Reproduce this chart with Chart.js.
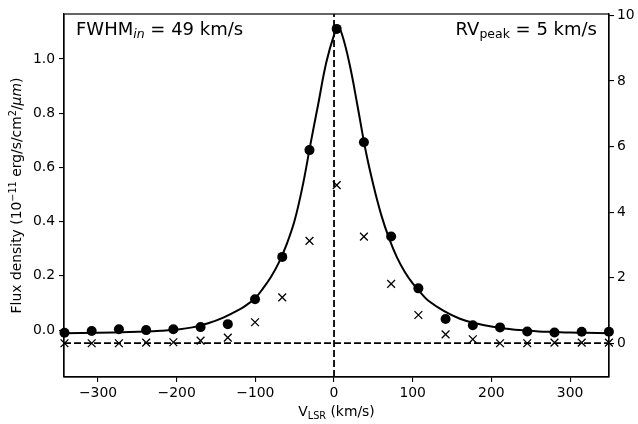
<!DOCTYPE html>
<html>
<head>
<meta charset="utf-8">
<script src="https://cdn.jsdelivr.net/npm/chart.js@4.4.0/dist/chart.umd.min.js"></script>
<style>
  html, body { margin: 0; padding: 0; background: #ffffff; }
  #wrap { width: 638px; height: 424px; position: relative; }
</style>
</head>
<body>
<div id="wrap"><canvas id="c" width="638" height="424"></canvas></div>
<script>
// ---- data ----
const obsVelocity = [-342.6, -308.0, -273.4, -238.8, -204.2, -169.6, -135.0, -100.4, -65.8, -31.2, 3.4,
                     38.0, 72.6, 107.2, 141.8, 176.4, 211.0, 245.6, 280.2, 314.8, 349.4];
const fluxObserved = [-0.010, -0.003, 0.003, 0.000, 0.003, 0.011, 0.022, 0.114, 0.270, 0.664, 1.111,
                      0.693, 0.345, 0.154, 0.041, 0.018, 0.010, -0.005, -0.009, -0.006, -0.006];
const fluxInput = [0.00, 0.00, 0.00, 0.02, 0.03, 0.08, 0.17, 0.64, 1.40, 3.12, 4.82,
                   3.25, 1.81, 0.86, 0.27, 0.12, 0.00, 0.00, 0.02, 0.02, 0.02];
const fitVelocity = [-343, -300, -260, -240, -220, -200, -180, -160, -140, -120, -110, -100, -90, -80, -70, -60, -50, -40,
                     -30, -20, -10, 0, 5, 10, 20, 30, 40, 50, 60, 70, 80, 90, 100, 110, 120, 140, 160, 180, 200,
                     220, 240, 260, 280, 300, 320, 349.5];
const fitFlux = [-0.012, -0.010, -0.007, -0.005, -0.002, 0.002, 0.010, 0.025, 0.047, 0.076, 0.095, 0.118, 0.155, 0.197,
                 0.250, 0.318, 0.405, 0.530, 0.685, 0.835, 0.985, 1.088, 1.113, 1.092, 0.978, 0.825, 0.665, 0.535,
                 0.425, 0.338, 0.268, 0.214, 0.172, 0.138, 0.108, 0.070, 0.042, 0.025, 0.013, 0.005, -0.001, -0.005,
                 -0.007, -0.009, -0.010, -0.012];
const xTicks = [-300, -200, -100, 0, 100, 200, 300];
const yLeftTicks = [0.0, 0.2, 0.4, 0.6, 0.8, 1.0];
const yRightTicks = [0, 2, 4, 6, 8, 10];
const peakLineVelocity = 0;
const inputZero = 0;
const xRange = [-343.2, 349.5];
const yLeftRange = [-0.173, 1.166];
const yRightRange = [-1.03, 10.04];

const FONT = '"DejaVu Sans", "Liberation Sans", sans-serif';
const fmtMinus = (s) => String(s).replace('-', '\u2212');

function drawParts(ctx, parts, x, y, align) {
  let total = 0;
  for (const p of parts) {
    ctx.font = (p.italic ? 'italic ' : '') + p.size + 'px ' + FONT;
    p.w = ctx.measureText(p.t).width;
    total += p.w;
  }
  let cx = align === 'right' ? x - total : (align === 'center' ? x - total / 2 : x);
  ctx.textBaseline = 'alphabetic';
  ctx.textAlign = 'left';
  for (const p of parts) {
    ctx.font = (p.italic ? 'italic ' : '') + p.size + 'px ' + FONT;
    ctx.fillText(p.t, cx, y + (p.dy || 0));
    cx += p.w;
  }
}

const decor = {
  id: 'decor',
  afterDraw(chart) {
    const ctx = chart.ctx;
    const a = chart.chartArea;
    ctx.save();
    ctx.strokeStyle = '#000';
    ctx.lineWidth = 1.2;
    ctx.strokeRect(a.left, a.top, a.right - a.left, a.bottom - a.top);
    ctx.fillStyle = '#000';
    // annotations
    drawParts(ctx, [
      {t: 'FWHM', size: 18},
      {t: 'in', size: 12.5, italic: true, dy: 3},
      {t: ' = 49 km/s', size: 18}
    ], 76, 35, 'left');
    drawParts(ctx, [
      {t: 'RV', size: 18},
      {t: 'peak', size: 12.5, dy: 3},
      {t: ' = 5 km/s', size: 18}
    ], 597, 35, 'right');
    // x title
    drawParts(ctx, [
      {t: 'V', size: 13.9},
      {t: 'LSR', size: 9.7, dy: 2.5},
      {t: ' (km/s)', size: 13.9}
    ], (a.left + a.right) / 2, 416, 'center');
    // y title
    ctx.save();
    ctx.translate(21, (a.top + a.bottom) / 2);
    ctx.rotate(-Math.PI / 2);
    drawParts(ctx, [
      {t: 'Flux density (10', size: 13.9},
      {t: '\u221211', size: 9.7, dy: -5.5},
      {t: ' erg/s/cm', size: 13.9},
      {t: '2', size: 9.7, dy: -5.5},
      {t: '/', size: 13.9},
      {t: '\u03bcm', size: 13.9, italic: true},
      {t: ')', size: 13.9}
    ], 0, 0, 'center');
    ctx.restore();
    ctx.restore();
  }
};

const pts = (xs, ys) => xs.map((x, i) => ({x: x, y: ys[i]}));

new Chart(document.getElementById('c'), {
  type: 'scatter',
  data: {
    datasets: [
      {
        type: 'line', label: 'fit', data: pts(fitVelocity, fitFlux), yAxisID: 'y',
        borderColor: '#000', borderWidth: 2, pointRadius: 0, tension: 0.4, fill: false, order: 3
      },
      {
        type: 'line', label: 'zero', data: [{x: xRange[0], y: inputZero}, {x: xRange[1], y: inputZero}], yAxisID: 'y2',
        borderColor: '#000', borderWidth: 1.8, borderDash: [7, 3], pointRadius: 0, fill: false, order: 4
      },
      {
        type: 'line', label: 'peak', data: [{x: peakLineVelocity, y: yLeftRange[0]}, {x: peakLineVelocity, y: yLeftRange[1]}], yAxisID: 'y',
        borderColor: '#000', borderWidth: 1.8, borderDash: [7, 3], pointRadius: 0, fill: false, order: 5
      },
      {
        label: 'observed', data: pts(obsVelocity, fluxObserved), yAxisID: 'y',
        pointStyle: 'circle', pointRadius: 5, backgroundColor: '#000', borderColor: '#000', borderWidth: 0, order: 1
      },
      {
        label: 'input', data: pts(obsVelocity, fluxInput), yAxisID: 'y2',
        pointStyle: 'crossRot', pointRadius: 5.5, borderColor: '#000', backgroundColor: '#000', borderWidth: 1.3, order: 2
      }
    ]
  },
  options: {
    responsive: false,
    animation: false,
    devicePixelRatio: 1,
    layout: { padding: { top: 14, left: 0, right: 0, bottom: 0 } },
    plugins: { legend: { display: false }, tooltip: { enabled: false } },
    clip: false,
    scales: {
      x: {
        type: 'linear', min: xRange[0], max: xRange[1],
        afterBuildTicks: (s) => { s.ticks = xTicks.map(v => ({value: v})); },
        afterFit: (s) => { s.height = 47; },
        grid: { drawOnChartArea: false, drawTicks: true, tickLength: 5, color: '#000', lineWidth: 1.1 },
        border: { display: true, color: '#000', width: 1.2 },
        ticks: { color: '#000', font: { family: FONT, size: 13.9 }, padding: 3, maxRotation: 0,
                 callback: (v) => fmtMinus(v) }
      },
      y: {
        type: 'linear', position: 'left', min: yLeftRange[0], max: yLeftRange[1],
        afterBuildTicks: (s) => { s.ticks = yLeftTicks.map(v => ({value: v})); },
        afterFit: (s) => { s.width = 64; },
        grid: { drawOnChartArea: false, drawTicks: true, tickLength: 5, color: '#000', lineWidth: 1.1 },
        border: { display: true, color: '#000', width: 1.2 },
        ticks: { color: '#000', font: { family: FONT, size: 13.9 }, padding: 4,
                 callback: (v) => fmtMinus(Number(v).toFixed(1)) }
      },
      y2: {
        type: 'linear', position: 'right', min: yRightRange[0], max: yRightRange[1],
        afterBuildTicks: (s) => { s.ticks = yRightTicks.map(v => ({value: v})); },
        afterFit: (s) => { s.width = 29; },
        grid: { drawOnChartArea: false, drawTicks: true, tickLength: 5, color: '#000', lineWidth: 1.1 },
        border: { display: true, color: '#000', width: 1.2 },
        ticks: { color: '#000', font: { family: FONT, size: 13.9 }, padding: 3,
                 callback: (v) => fmtMinus(v) }
      }
    }
  },
  plugins: [decor]
});
</script>
</body>
</html>
